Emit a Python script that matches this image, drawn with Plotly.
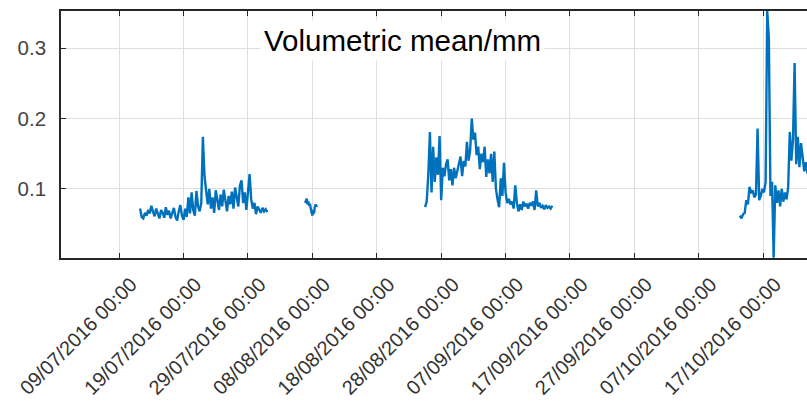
import pandas as pd
import plotly.graph_objects as go

# ---- data ----
tick_dates = ["2016-07-09", "2016-07-19", "2016-07-29", "2016-08-08", "2016-08-18",
              "2016-08-28", "2016-09-07", "2016-09-17", "2016-09-27", "2016-10-07",
              "2016-10-17"]
tick_labels = ["09/07/2016 00:00", "19/07/2016 00:00", "29/07/2016 00:00", "08/08/2016 00:00",
               "18/08/2016 00:00", "28/08/2016 00:00", "07/09/2016 00:00", "17/09/2016 00:00",
               "27/09/2016 00:00", "07/10/2016 00:00", "17/10/2016 00:00"]
y_ticks = [0.1, 0.2, 0.3]
y_tick_labels = ["0.1", "0.2", "0.3"]

seg1_start, seg1_step = "2016-07-12 06:00", "6h"
seg1_values = [0.072, 0.060, 0.058, 0.066, 0.062, 0.070, 0.065, 0.076, 0.068, 0.061,
               0.072, 0.064, 0.058, 0.070, 0.066, 0.059, 0.074, 0.063, 0.069, 0.058,
               0.066, 0.073, 0.060, 0.055, 0.068, 0.077, 0.062, 0.056, 0.072, 0.060,
               0.088, 0.065, 0.095, 0.070, 0.062, 0.097, 0.075, 0.068, 0.080, 0.174,
               0.118, 0.092, 0.078, 0.100, 0.072, 0.088, 0.066, 0.098, 0.080, 0.070,
               0.092, 0.075, 0.099, 0.082, 0.068, 0.090, 0.078, 0.096, 0.072, 0.102,
               0.085, 0.075, 0.105, 0.112, 0.080, 0.095, 0.070, 0.100, 0.121, 0.085,
               0.072, 0.080, 0.064, 0.075, 0.070, 0.066, 0.073, 0.068, 0.071, 0.067]

seg2_start, seg2_step = "2016-08-06 21:00", "3h"
seg2_values = [0.080, 0.084, 0.086, 0.078, 0.082, 0.076, 0.079, 0.072, 0.066, 0.062,
               0.070, 0.065, 0.074, 0.078, 0.075, 0.077]

seg3_start, seg3_step = "2016-08-25 12:00", "6h"
seg3_values = [0.074, 0.082, 0.120, 0.181, 0.095, 0.160, 0.110, 0.145, 0.120, 0.175,
               0.084, 0.130, 0.118, 0.135, 0.142, 0.112, 0.128, 0.105, 0.130, 0.115,
               0.125, 0.138, 0.146, 0.118, 0.140, 0.132, 0.167, 0.140, 0.155, 0.200,
               0.170, 0.180, 0.148, 0.160, 0.128, 0.150, 0.138, 0.160, 0.117, 0.142,
               0.122, 0.150, 0.110, 0.153, 0.100, 0.085, 0.074, 0.115, 0.090, 0.137,
               0.095, 0.080, 0.086, 0.078, 0.082, 0.072, 0.105, 0.080, 0.068, 0.078,
               0.070, 0.082, 0.075, 0.079, 0.072, 0.080, 0.076, 0.082, 0.070, 0.098,
               0.075, 0.080, 0.073, 0.076, 0.071, 0.077, 0.073, 0.075, 0.072, 0.076]

seg4_start, seg4_step = "2016-10-13 09:00", "6h"
seg4_values = [0.062, 0.058, 0.064, 0.066, 0.084, 0.078, 0.103, 0.094, 0.098, 0.088,
               0.092, 0.186, 0.084, 0.090, 0.100, 0.095, 0.110, 0.353, 0.315, 0.090,
               0.110, 0.002, 0.105, 0.080, 0.098, 0.075, 0.100, 0.082, 0.095, 0.085,
               0.102, 0.181, 0.140, 0.170, 0.279, 0.135, 0.174, 0.131, 0.165, 0.140,
               0.125, 0.138, 0.122, 0.130]

x_range = ["2016-06-29 23:17", "2016-10-23 19:12"]
y_range = [0.0017, 0.353]

# ---- build one line with gaps between the recording periods ----
xs, ys = [], []
for start, step, vals in [(seg1_start, seg1_step, seg1_values),
                          (seg2_start, seg2_step, seg2_values),
                          (seg3_start, seg3_step, seg3_values),
                          (seg4_start, seg4_step, seg4_values)]:
    times = pd.date_range(start, periods=len(vals), freq=step)
    xs.extend(list(times))
    ys.extend(vals)
    xs.append(None)
    ys.append(None)

fig = go.Figure()
fig.add_trace(go.Scatter(x=xs, y=ys, mode="lines", connectgaps=False,
                         line=dict(color="#0072BD", width=2.4), showlegend=False))

axis_color = "#262626"
grid_color = "#DEDEDE"
font_family = "Liberation Sans, Arial, sans-serif"

fig.update_layout(
    width=807, height=405,
    margin=dict(l=61, r=0, t=11, b=147, autoexpand=False),
    paper_bgcolor="white", plot_bgcolor="white",
    xaxis=dict(type="date", range=x_range, tickvals=tick_dates, ticktext=tick_labels,
               tickangle=-45, ticks="inside", ticklen=5, tickwidth=1.2, tickcolor=axis_color,
               showline=True, linecolor=axis_color, linewidth=1.6, mirror="ticks",
               showgrid=True, gridcolor=grid_color, gridwidth=1, zeroline=False,
               automargin=False, ticklabelshift=12, ticklabelstandoff=5,
               tickfont=dict(family=font_family, size=20, color="#333333")),
    yaxis=dict(range=y_range, tickvals=y_ticks, ticktext=y_tick_labels,
               ticks="inside", ticklen=5, tickwidth=1.2, tickcolor=axis_color,
               showline=True, linecolor=axis_color, linewidth=1.6, mirror=False,
               showgrid=True, gridcolor=grid_color, gridwidth=1, zeroline=False,
               ticklabelstandoff=9, automargin=False,
               tickfont=dict(family=font_family, size=20.5, color="#444444")),
    annotations=[dict(text="Volumetric mean/mm", xref="paper", yref="paper",
                      x=0.4578, y=0.879, xanchor="center", yanchor="middle",
                      showarrow=False, bgcolor="white", borderpad=3,
                      font=dict(family=font_family, size=29.5, color="black"))],
)

fig.write_html("out.html", config={"displayModeBar": False},
               post_script="document.body.style.margin='0';document.body.style.overflow='hidden';")
